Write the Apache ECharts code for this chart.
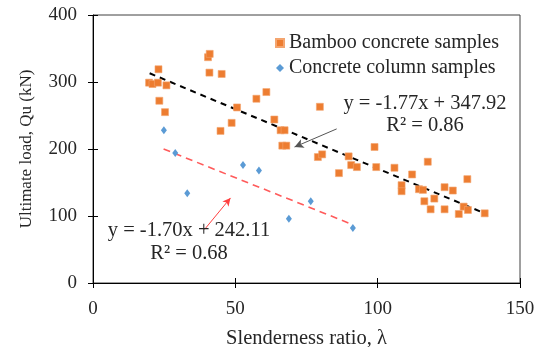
<!DOCTYPE html>
<html>
<head>
<meta charset="utf-8">
<script src="https://cdn.jsdelivr.net/npm/echarts@6/dist/echarts.min.js"></script>
<style>
  html, body { margin: 0; padding: 0; background: #fff; }
  #chart { width: 542px; height: 347px; }
</style>
</head>
<body>
<div id="chart"></div>
<script>
// bamboo concrete samples [slenderness, Qu]
var bambooPoints = [
  [19.7, 299], [20.9, 297], [22.8, 299], [23.0, 319], [25.8, 295], [23.3, 272], [25.3, 255],
  [40.4, 337], [41.0, 342], [40.9, 314], [45.2, 312], [44.8, 227], [48.7, 239], [50.6, 262],
  [57.4, 275], [60.9, 285], [63.7, 244], [65.9, 228], [67.3, 228], [66.5, 205], [67.9, 205],
  [79.7, 263], [79.0, 188], [80.5, 192], [86.4, 164], [89.8, 189], [90.7, 176], [92.7, 173],
  [98.9, 203], [99.5, 173], [105.9, 172], [108.4, 146], [108.4, 137], [112.1, 162], [117.6, 181],
  [114.5, 140], [115.9, 139], [116.4, 122], [118.6, 110], [119.9, 126], [123.5, 143], [126.4, 138],
  [123.5, 110], [131.5, 155], [128.5, 103], [130.2, 114], [131.7, 109], [137.6, 104]
];
// concrete column samples
var columnPoints = [
  [24.9, 228], [28.9, 194], [33.1, 134], [52.7, 176], [58.3, 168], [68.8, 96], [76.5, 122], [91.3, 82]
];
// trend line ends
var bambooTrend = [[19.9, 313], [137.6, 104]];
var columnTrend = [[24.8, 200], [91.3, 87]];
// arrows from the equations to the lines
var bambooArrow = [[85.6, 230], [70.8, 203]];
var columnArrow = [[39.2, 80], [48.3, 127]];

var xTicks = [0, 150, 50];   // min, max, step
var yTicks = [0, 400, 100];

var font = 'Liberation Serif, Times New Roman, serif';
var txt = '#262626';

var chart = echarts.init(document.getElementById('chart'));

function axisBase(t) {
  return {
    min: t[0], max: t[1], interval: t[2],
    axisLine: { lineStyle: { color: '#000', width: 1 } },
    splitLine: { show: false }
  };
}

var xMain = Object.assign(axisBase(xTicks), {
  type: 'value',
  name: 'Slenderness ratio, λ',
  nameLocation: 'middle',
  nameGap: 45,
  nameTextStyle: { fontFamily: font, fontSize: 20.5, color: txt },
  axisTick: { length: 5, lineStyle: { color: '#000' } },
  axisLabel: { margin: 17, fontFamily: font, fontSize: 19, color: txt }
});
var xInner = Object.assign(axisBase(xTicks), {
  type: 'value', position: 'bottom',
  axisLine: { show: false },
  axisTick: { inside: true, length: 5, lineStyle: { color: '#000' } },
  axisLabel: { show: false }
});
var yMain = Object.assign(axisBase(yTicks), {
  type: 'value',
  name: 'Ultimate load, Qu (kN)',
  nameLocation: 'middle',
  nameGap: 58,
  nameTextStyle: { fontFamily: font, fontSize: 17, color: txt },
  axisTick: { length: 5, lineStyle: { color: '#000' } },
  axisLabel: { margin: 16, fontFamily: font, fontSize: 19, color: txt }
});
var yInner = Object.assign(axisBase(yTicks), {
  type: 'value', position: 'left',
  axisLine: { show: false },
  axisTick: { inside: true, length: 5, lineStyle: { color: '#000' } },
  axisLabel: { show: false }
});

var option = {
  animation: false,
  backgroundColor: '#fff',
  grid: {
    left: 93, right: 22, top: 15, bottom: 64,
    outerBoundsMode: 'none',
    show: true, borderColor: '#404040', borderWidth: 1, backgroundColor: 'transparent'
  },
  legend: {
    data: ['Bamboo concrete samples', 'Concrete column samples'],
    orient: 'vertical',
    left: 270, top: 28,
    itemWidth: 8, itemHeight: 8, itemGap: 5,
    textStyle: { fontFamily: font, fontSize: 20, color: txt }
  },
  xAxis: [xMain, xInner],
  yAxis: [yMain, yInner],
  series: [
    {
      name: 'Bamboo concrete samples',
      type: 'scatter',
      symbol: 'rect',
      symbolSize: 7,
      itemStyle: { color: '#ED7D31', borderColor: '#F4A56F', borderWidth: 0.6, opacity: 1 },
      data: bambooPoints,
      z: 3
    },
    {
      name: 'Concrete column samples',
      type: 'scatter',
      symbol: 'diamond',
      symbolSize: [6, 8],
      itemStyle: { color: '#5B9BD5', opacity: 1 },
      data: columnPoints,
      z: 3
    },
    {
      name: 'bamboo trend',
      type: 'line',
      data: bambooTrend,
      symbol: 'none',
      lineStyle: { color: '#000', width: 2, type: [6, 5] },
      silent: true,
      z: 2,
      markLine: {
        silent: true,
        symbol: ['none', 'arrow'],
        symbolSize: [7, 9],
        label: { show: false },
        lineStyle: { color: '#555', width: 1, type: 'solid' },
        data: [[{ coord: bambooArrow[0] }, { coord: bambooArrow[1] }]]
      }
    },
    {
      name: 'column trend',
      type: 'line',
      data: columnTrend,
      symbol: 'none',
      lineStyle: { color: '#FF5B5B', width: 1.6, type: [7, 5] },
      silent: true,
      z: 2,
      markLine: {
        silent: true,
        symbol: ['none', 'arrow'],
        symbolSize: [6, 8],
        label: { show: false },
        lineStyle: { color: '#FF4040', width: 1, type: 'solid' },
        data: [[{ coord: columnArrow[0] }, { coord: columnArrow[1] }]]
      }
    }
  ],
  graphic: [
    {
      type: 'text', x: 425, y: 115, z: 10,
      style: {
        text: 'y = -1.77x + 347.92\nR² = 0.86',
        fontFamily: font, fontSize: 20.5, lineHeight: 22, fill: txt,
        align: 'center', verticalAlign: 'middle'
      }
    },
    {
      type: 'text', x: 189, y: 242, z: 10,
      style: {
        text: 'y = -1.70x + 242.11\nR² = 0.68',
        fontFamily: font, fontSize: 20.5, lineHeight: 22.5, fill: txt,
        align: 'center', verticalAlign: 'middle'
      }
    }
  ]
};

chart.setOption(option);
</script>
</body>
</html>
